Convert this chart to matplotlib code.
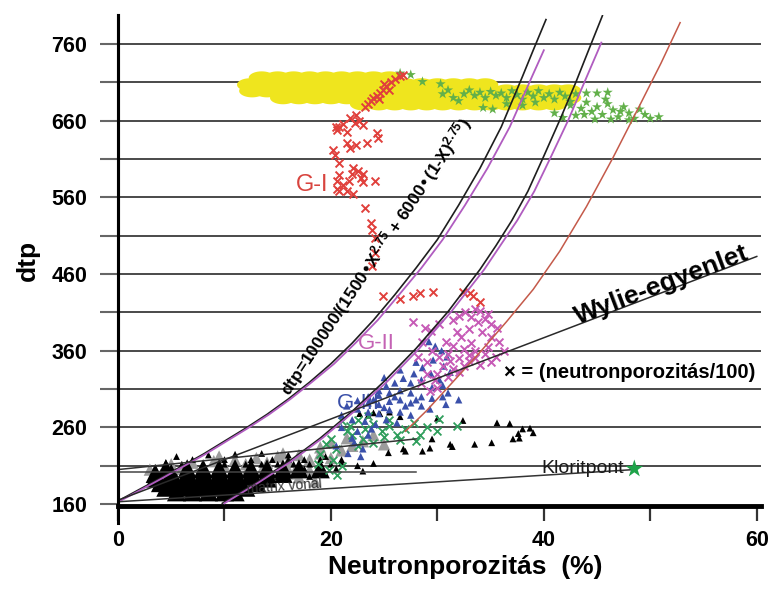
import numpy as np
import matplotlib
matplotlib.use("Agg")
import matplotlib.pyplot as plt

plt.rcParams['font.family'] = ['Liberation Sans', 'DejaVu Sans']
plt.rcParams['mathtext.default'] = 'regular'

# ---------------- axes / ticks ----------------
x_major = [0, 20, 40, 60]
x_minor = [10, 30, 50]
y_major = [160, 260, 360, 460, 560, 660, 760]
y_minor = [210, 310, 410, 510, 610, 710]
grid_levels = [210, 260, 310, 360, 410, 460, 510, 560, 610, 660, 710, 760]

# ---------------- curves ----------------
curveA_x = [0, 4, 8, 12, 14, 16, 18, 20, 22, 24, 26, 28, 30, 32, 34, 36, 38, 39, 40.2]
curveA_y = [164, 194, 225, 259, 277, 297, 319, 343, 370, 400, 433, 468, 505, 550, 598, 652, 718, 752, 792]
purpleA_x = [0.2, 4.2, 8.2, 12.2, 14.2, 16.2, 18.2, 20.3, 22.3, 24.4, 26.4, 28.5, 30.5, 32.6, 34.7, 36.8, 38.9, 40.0]
purpleA_y = [164, 194, 225, 259, 277, 297, 319, 343, 370, 400, 433, 468, 505, 550, 598, 652, 718, 752]
curveB_x = [9.8, 13, 16, 19, 22, 25, 28, 31, 34, 35.5, 37, 38.5, 40, 41.5, 43, 44.2, 45.5]
curveB_y = [161, 188, 215, 246, 281, 320, 363, 411, 466, 497, 530, 568, 614, 661, 710, 752, 797]
purpleB_x = [10.0, 13.2, 16.2, 19.2, 22.2, 25.3, 28.3, 31.3, 34.4, 35.9, 37.5, 39.1, 40.7, 42.3, 43.8, 45.1, 45.4]
purpleB_y = [161, 188, 215, 246, 281, 320, 363, 411, 466, 497, 530, 568, 614, 661, 710, 752, 762]
curveC_x = [27, 29, 31.5, 34, 36.5, 39, 41.5, 44, 46.5, 49, 51, 52.8]
curveC_y = [255, 282, 320, 358, 398, 440, 490, 548, 612, 680, 735, 788]

# straight lines
wyllie_x = [0, 60]
wyllie_y = [165, 483]
upper_x = [0, 28]
upper_y = [205, 245]
flat_x = [0, 28]
flat_y = [202, 202]
matrix_x = [0, 48.5]
matrix_y = [163, 205]
klorit_x = [48.5]
klorit_y = [206]

# ---------------- scatter groups ----------------
yellow_x = ([13.5, 15, 16.5, 18, 19.5, 21, 22.5, 24, 25.5] +
            [12.4, 13.5, 15, 16.5, 18, 19.5, 21, 22.5, 24, 25.5, 27, 28.5, 30, 31.5, 33, 34.5] +
            [12.6, 14, 15.5, 17, 18.5, 20, 21.5, 23, 24.5, 26, 27.5, 29, 30.5, 32, 33.5, 35, 36.5,
             38, 39.5, 41, 42.3] +
            [15.5, 17, 18.5, 20, 21.5, 23, 24.5, 26, 27.5, 29, 30.5, 32, 33.5, 35, 36.5, 38, 39.5,
             41, 42.3] +
            [23, 24.5, 26, 27.5, 29, 30.5, 32, 33.5, 35, 36.5, 38, 39.5, 41])
yellow_y = ([716] * 9 + [707] * 16 + [699] * 21 + [690] * 19 + [682] * 13)

gstar_x = [26.5, 27.5, 28.6, 30.3, 30.5, 31.0, 31.5, 32.0, 32.5, 33.0, 33.5, 34.0, 34.5, 35.0,
           35.5, 36.0, 36.5, 37.0, 37.5, 38.0, 38.5, 39.0, 39.5, 40.0, 40.5, 41.0, 41.5, 42.0,
           42.5, 43.0, 44.0, 45.0, 46.0, 42.5, 43.5, 44.0, 44.5, 45.0, 45.5, 46.0, 46.5, 47.0,
           47.5, 48.0, 48.5, 49.0, 49.5, 50.0, 50.8, 41.0, 41.8, 43.0, 44.8, 46.3, 48.0, 34.3,
           35.2, 36.5, 38.0, 45.8, 47.2, 43.8, 39.2]
gstar_y = [722, 720, 711, 708, 695, 700, 690, 686, 695, 700, 693, 697, 690, 698,
           693, 696, 690, 699, 694, 688, 697, 692, 699, 690, 695, 688, 697, 692,
           685, 695, 696, 696, 697, 680, 676, 684, 672, 678, 668, 682, 674, 665,
           678, 670, 663, 675, 668, 663, 665, 670, 664, 667, 662, 662, 661, 677,
           675, 682, 680, 688, 672, 668, 684]

red_x = [26.5, 26.0, 25.6, 25.2, 24.9, 24.6, 24.3, 24.0, 23.8, 23.5, 23.2, 25.5, 24.5,
         22.4, 21.8, 20.8, 20.6, 21.5, 22.3, 23.0, 20.5, 21.1, 24.3, 24.4,
         21.5, 22.4, 23.4, 21.8, 20.2, 20.4, 20.8,
         22.1, 22.5, 23.0, 22.8, 22.0, 21.7, 23.0,
         20.8, 20.6, 21.1, 20.8, 21.5, 22.1, 20.6, 24.1,
         23.2, 23.8, 23.9, 24.1, 24.1, 23.9,
         24.9, 26.5, 27.7, 28.4, 29.6, 32.4, 33.1, 33.3, 34.0, 26.8, 25.0, 22.6]
red_y = [718, 714, 710, 705, 700, 696, 692, 690, 686, 682, 678, 700, 688,
         667, 664, 652, 648, 645, 657, 654, 652, 656, 644, 637,
         631, 628, 631, 625, 622, 615, 605,
         599, 595, 590, 585, 590, 582, 580,
         589, 582, 576, 569, 569, 565, 571, 582,
         546, 527, 517, 507, 488, 471,
         432, 428, 432, 435, 436, 436, 435, 432, 423, 720, 708, 660]

mag_x = [30.2, 31.5, 32.0, 32.6, 33.2, 33.8, 34.5, 35.0, 35.6, 34.0, 33.5, 31.8, 33.0, 34.2,
         35.0, 32.2, 30.8, 31.5, 32.5, 33.5, 34.5, 35.5, 29.5, 30.2, 31.0, 32.0, 33.0, 34.0,
         35.0, 29.0, 30.5, 31.5, 32.5, 33.5, 28.6, 30.0, 31.0, 32.0, 29.8, 34.8, 35.8, 36.3,
         28.2, 29.0, 33.2, 27.7, 29.4, 28.8, 30.0, 28.5, 29.3, 34.8, 33.0, 31.2]
mag_y = [395, 400, 405, 410, 404, 398, 402, 395, 390, 412, 415, 385, 388, 384,
         378, 378, 372, 366, 362, 360, 356, 352, 360, 352, 356, 350, 346, 342,
         345, 345, 340, 336, 340, 350, 372, 330, 326, 332, 322, 365, 372, 360,
         352, 330, 370, 398, 386, 390, 312, 318, 308, 408, 354, 346]

blue_x = [29.2, 29.8, 30.4, 30.9, 29.6, 30.6, 31.2, 29.4, 30.2, 28.6, 27.8, 26.8, 26.0, 25.2,
          24.5, 27.5, 28.5, 29.5, 30.5, 23.5, 24.5, 25.5, 26.5, 27.5, 28.5, 29.5, 30.5, 22.5,
          23.5, 24.5, 25.5, 26.5, 27.5, 28.5, 29.3, 21.5, 22.5, 23.5, 24.5, 25.5, 26.5, 27.5,
          21.0, 22.0, 23.2, 24.2, 25.2, 26.2, 22.5, 23.5, 22.2, 23.0, 21.6, 22.8, 31.0, 32.0,
          30.8, 26.5, 25.0, 28.0, 21.0, 22.0, 20.5, 23.8, 24.0, 26.0, 28.0, 27.0, 25.0]
blue_y = [372, 366, 360, 352, 348, 340, 332, 330, 322, 338, 330, 324, 318, 314,
          308, 318, 322, 312, 315, 300, 302, 305, 308, 305, 300, 298, 300, 295,
          292, 290, 294, 296, 292, 288, 284, 288, 284, 280, 278, 283, 280, 276,
          276, 270, 268, 264, 270, 266, 255, 250, 240, 232, 226, 222, 305, 296,
          290, 335, 325, 345, 260, 246, 236, 258, 296, 300, 296, 288, 286]

gx_x = [21.0, 21.8, 22.5, 23.2, 24.0, 24.8, 25.5, 26.2, 27.0, 27.8, 28.4, 29.0, 22.0, 23.0,
        24.0, 25.0, 20.0, 19.5, 20.5, 19.0, 20.2, 21.0, 19.8, 20.6, 18.8, 30.2, 31.8, 30.0,
        26.5, 22.5, 28.0, 25.5, 23.5, 21.5]
gx_y = [268, 262, 270, 258, 265, 255, 262, 250, 258, 266, 250, 260, 250, 245,
        240, 248, 245, 238, 232, 225, 218, 210, 205, 198, 212, 271, 262, 255,
        244, 236, 242, 270, 275, 255]

gray_x = [3, 5, 7, 9, 11, 13, 15, 17, 19, 6, 8, 10, 12, 14, 16, 18, 20, 4, 14, 16, 18,
          21, 22, 20, 19, 21.5, 23, 24, 25, 12, 17, 18.5, 9.5, 15.5, 15, 16.5, 13.5]
gray_y = [205, 212, 214, 216, 218, 220, 222, 224, 226, 206, 208, 210, 212, 214, 216, 218,
          220, 198, 198, 205, 204, 230, 236, 240, 234, 246, 242, 250, 238, 200, 195, 190,
          222, 226, 196, 200, 204]

blackcore_x = ([5.5, 7, 8.5, 10, 11] +
               [4.5, 6, 7.5, 9, 10.5, 12] +
               [4, 5.5, 7, 8.5, 10, 11.5, 13] +
               [3.5, 5, 6.5, 8, 9.5, 11, 12.5, 14] +
               [3.5, 5, 6.5, 8, 9.5, 11, 12.5, 14, 15.5] +
               [4.5, 6.5, 8, 9.5, 11, 12.5, 14, 15.5, 17, 19])
blackcore_y = ([176] * 5 + [182] * 6 + [188] * 7 + [194] * 8 + [200] * 9 + [206] * 10)

blacksp_x = [6, 8, 10, 12, 13.5, 15, 16.5, 18, 20, 7, 10, 12.5, 14.5, 16, 17.5, 19, 21,
             5.5, 8.5, 11, 13.5, 16, 19.5, 21, 22.5, 24, 23, 20.5, 4.5,
             24.0, 24.6, 25.4, 27.0, 28.6, 29.3, 29.5, 30.0, 31.2, 31.4, 32.4, 33.5, 35.1,
             35.6, 36.8, 37.1, 37.6, 38.0, 38.7, 39.0, 37.7, 22.7, 23.5, 25.5, 26.5, 26.8,
             16.5, 17.5, 18.0]
blacksp_y = [212, 212, 212, 212, 212, 212, 212, 212, 212, 218, 218, 218, 218, 218, 218, 218, 218,
             222, 224, 225, 226, 224, 222, 214, 210, 213, 203, 206, 214,
             279, 278, 227, 229, 229, 233, 245, 272, 238, 235, 269, 238, 240,
             266, 265, 245, 252, 258, 259, 253, 246, 278, 276, 280, 274, 232,
             200, 206, 196]

# ---------------- figure ----------------
fig = plt.figure(figsize=(7.72, 5.90), dpi=100)
ax = fig.add_axes([0.1528, 0.1424, 0.8330, 0.8322])
ax.set_xlim(0, 60.4)
ax.set_ylim(157.5, 798)

for g in grid_levels:
    ax.axhline(g, color='#4a4a4a', lw=1.4, zorder=1)

# horizontally stretched ellipse marker for the dense yellow cloud
_t = np.linspace(0, 2 * np.pi, 41)
ellipse_marker = list(zip(np.cos(_t), 0.5 * np.sin(_t)))

ax.scatter(yellow_x, yellow_y, s=350, marker=ellipse_marker, color='#efe51e',
           edgecolors='none', zorder=2)
ax.scatter(gstar_x, gstar_y, s=60, marker='*', color='#62b04a', edgecolors='none', zorder=3)
ax.scatter(gray_x, gray_y, s=80, marker='^', color='#9c9c9c', edgecolors='none', zorder=3)
ax.scatter(blackcore_x, blackcore_y, s=190, marker='^', color='black', edgecolors='none', zorder=4)
ax.scatter(blacksp_x, blacksp_y, s=24, marker='^', color='black', edgecolors='none', zorder=4)
ax.scatter(gx_x, gx_y, s=32, marker='x', color='#2f9e5c', linewidths=1.3, zorder=5)
ax.scatter(blue_x, blue_y, s=28, marker='^', color='#3a50aa', edgecolors='none', zorder=5)
ax.text(20.6, 291, 'G-III', color='#3a4fa8', fontsize=16, ha='left', va='center', zorder=5.5)
ax.scatter(mag_x, mag_y, s=32, marker='x', color='#c65ab6', linewidths=1.4, zorder=6)
ax.scatter(red_x, red_y, s=32, marker='x', color='#e0403c', linewidths=1.4, zorder=6)

# lines
ax.plot(curveA_x, curveA_y, color='#1e1e1e', lw=1.2, zorder=7)
ax.plot(purpleA_x, purpleA_y, color='#b05cc0', lw=1.3, zorder=7)
ax.plot(curveB_x, curveB_y, color='#1e1e1e', lw=1.2, zorder=7)
ax.plot(purpleB_x, purpleB_y, color='#b05cc0', lw=1.3, zorder=7)
ax.plot(curveC_x, curveC_y, color='#c45a4a', lw=1.1, zorder=7)
ax.plot(wyllie_x, wyllie_y, color='#2a2a2a', lw=1.1, zorder=7)
ax.plot(upper_x, upper_y, color='#333333', lw=1.1, zorder=7)
ax.plot(flat_x, flat_y, color='#444444', lw=1.1, zorder=7)
ax.plot(matrix_x, matrix_y, color='#333333', lw=1.1, zorder=7)
ax.scatter(klorit_x, klorit_y, s=180, marker='*', color='#1fa34a', edgecolors='none', zorder=8)

# texts
ax.text(18.2, 576, 'G-I', color='#d8443e', fontsize=17, ha='center', va='center', zorder=8)
ax.text(24.3, 369, 'G-II', color='#c462b4', fontsize=16, ha='center', va='center', zorder=8)
ax.text(24.2, 482, r'dtp=100000/(1500•X$^{2.75}$ + 6000•(1-X)$^{2.75}$)',
        fontsize=12.5, fontweight='bold', rotation=56.3, ha='center', va='center',
        rotation_mode='anchor', zorder=8)
ax.text(43.2, 394, 'Wylie-egyenlet', fontsize=19, fontweight='bold', rotation=20.8,
        ha='left', va='baseline', rotation_mode='anchor', zorder=8)
ax.text(36.3, 331, '× = (neutronporozitás/100)', fontsize=14.5, fontweight='bold',
        ha='left', va='center', zorder=8)
ax.text(39.8, 206, 'Kloritpont', fontsize=14, ha='left', va='center', color='#1a1a1a', zorder=8)
ax.text(15.6, 183, 'matrix vonal', fontsize=10, ha='center', va='center', color='#333333',
        rotation=4, zorder=8)

# axes styling
for side in ['top', 'right']:
    ax.spines[side].set_visible(False)
ax.spines['left'].set_linewidth(2.2)
ax.spines['bottom'].set_linewidth(3.5)
ax.plot([0, 0], [-0.035, 1], transform=ax.transAxes, color='black', lw=2.2,
        clip_on=False, zorder=9)

ax.set_xticks(x_major)
ax.set_xticks(x_minor, minor=True)
ax.set_yticks(y_major)
ax.set_yticks(y_minor, minor=True)
ax.tick_params(axis='x', which='both', direction='out', length=11, width=1.6,
               color='#333333', pad=6, labelsize=15.5)
ax.tick_params(axis='y', which='both', direction='out', length=13, width=1.5,
               color='#666666', pad=9, labelsize=15.5)
for lab in ax.get_xticklabels() + ax.get_yticklabels():
    lab.set_fontweight('bold')

ax.set_xlabel('Neutronporozitás  (%)', fontsize=19, fontweight='bold')
ax.xaxis.set_label_coords(0.54, -0.1)
ax.set_ylabel('dtp', fontsize=19, fontweight='bold')
ax.yaxis.set_label_coords(-0.121, 0.5)

fig.savefig('out.png', dpi=100)
